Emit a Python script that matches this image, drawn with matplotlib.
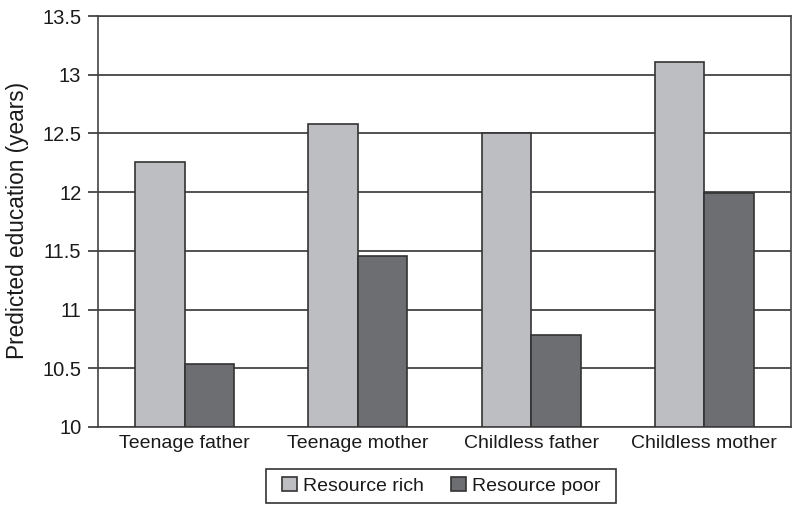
import matplotlib
matplotlib.use("Agg")
import matplotlib.pyplot as plt
from matplotlib.patches import Rectangle
import numpy as np

plt.rcParams['font.family'] = ['Liberation Sans', 'DejaVu Sans']

categories = ["Teenage father", "Teenage mother", "Childless father", "Childless mother"]
series_names = ["Resource rich", "Resource poor"]
rich = [12.26, 12.58, 12.50, 13.11]
poor = [10.54, 11.46, 10.78, 11.99]
yticks = [10, 10.5, 11, 11.5, 12, 12.5, 13, 13.5]
ytick_labels = ["10", "10.5", "11", "11.5", "12", "12.5", "13", "13.5"]

W, H = 800, 512
fig = plt.figure(figsize=(8, 5.12), dpi=100)
ax = fig.add_axes([98/W, 1-427/H, (791-98)/W, (427-16)/H])

x = np.arange(len(categories))
w = 0.286
edge = "#333333"
ax.bar(x - w/2, [r - 10 for r in rich], w, bottom=10, color="#bdbec2", edgecolor=edge, linewidth=1.2, label=series_names[0], zorder=3)
ax.bar(x + w/2, [p - 10 for p in poor], w, bottom=10, color="#6d6e72", edgecolor=edge, linewidth=1.2, label=series_names[1], zorder=3)

ax.set_xlim(-0.5, len(categories) - 0.5)
ax.set_ylim(10, 13.5)
ax.set_yticks(yticks)
ax.set_yticklabels(ytick_labels, fontsize=14.5, color="#1a1a1a")
ax.set_xticks(x)
ax.set_xticklabels(categories, fontsize=14, color="#1a1a1a")
ax.tick_params(axis='x', length=0, pad=6)
ax.tick_params(axis='y', length=7, width=1.2, color=edge, pad=5)
ax.yaxis.grid(True, color="#333333", linewidth=1.2, zorder=0)
ax.set_axisbelow(True)
for s in ax.spines.values():
    s.set_color("#444444")
    s.set_linewidth(1.2)
ax.set_ylabel("Predicted education (years)", fontsize=16.3, color="#1a1a1a")
ax.yaxis.set_label_coords(-0.1, 0.503)

leg = fig.legend(loc="center", bbox_to_anchor=(441/W, 1-486/H), ncol=2, fontsize=14,
                 frameon=False, handlelength=0.77, handleheight=0.77,
                 handletextpad=0.3, columnspacing=1.4, borderpad=0.0)
for t in leg.get_texts():
    t.set_color("#1a1a1a")
fig.add_artist(Rectangle((266/W, 1-503/H), 350/W, 34/H, transform=fig.transFigure,
                         fill=False, edgecolor="#333333", linewidth=1.2))

fig.savefig("out.png", dpi=100)
